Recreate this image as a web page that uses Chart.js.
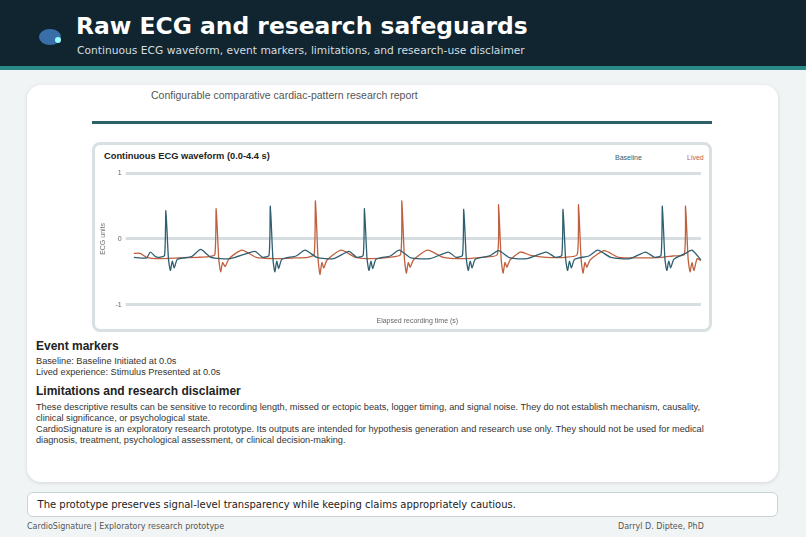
<!DOCTYPE html>
<html><head><meta charset="utf-8">
<script src="https://cdn.jsdelivr.net/npm/chart.js@4.4.0/dist/chart.umd.min.js"></script>
<style>
body{margin:0;width:806px;height:537px;background:#f1f4f4;font-family:"DejaVu Sans",sans-serif;position:relative;overflow:hidden}
.hdr{position:absolute;left:0;top:0;width:806px;height:66px;background:#10252f;border-bottom:4px solid #2a8a86}
.hdr h1{position:absolute;left:76px;top:12px;margin:0;color:#fff;font-size:23.4px;font-weight:bold}
.hdr p{position:absolute;left:77px;top:44px;margin:0;color:#d4dde0;font-size:10.7px}
.card{position:absolute;left:27px;top:85px;width:751px;height:397px;background:#fff;border-radius:14px;box-shadow:0 1px 4px rgba(0,0,0,.12);overflow:hidden;font-family:"Liberation Sans",Arial,sans-serif}
.sub{position:absolute;left:124px;top:4px;font-size:10.5px;color:#555}
.rule{position:absolute;left:65px;top:36px;width:620px;height:3px;background:#2d5f68}
.box{position:absolute;left:65px;top:57px;width:614px;height:184px;border:3px solid #d9e0e3;border-radius:8px}
.ct{position:absolute;left:9px;top:6px;font-size:9.3px;font-weight:bold;color:#222}
.lg{position:absolute;top:9px;font-size:7px;font-weight:normal}
.cv{position:absolute;left:0;top:20px;width:614px;height:164px}
h3{position:absolute;margin:0;font-size:12px;color:#222}
.t{position:absolute;font-size:9.2px;color:#333;line-height:11px;width:690px}
.foot{position:absolute;left:27px;top:492px;width:749px;height:23px;background:#fff;border:1px solid #c9d3d6;border-radius:6px;font-size:10px;line-height:23px;color:#222}
.fl{position:absolute;top:522px;font-size:8px;color:#555}
</style></head><body>
<div class="hdr">
<svg style="position:absolute;left:38px;top:26px" width="28" height="22"><ellipse cx="12" cy="11" rx="11" ry="8" fill="#3a6ea8"/><circle cx="20" cy="14" r="3" fill="#9ff"/></svg>
<h1>Raw ECG and research safeguards</h1>
<p>Continuous ECG waveform, event markers, limitations, and research-use disclaimer</p></div>
<div class="card">
<div class="sub">Configurable comparative cardiac-pattern research report</div>
<div class="rule"></div>
<div class="box">
<div class="ct">Continuous ECG waveform (0.0-4.4 s)</div>
<div class="lg" style="left:520px;color:#2f5f70">Baseline</div>
<div class="lg" style="left:592px;color:#c0603f">Lived</div>
<div class="cv"><canvas id="c"></canvas></div>
</div>
<h3 style="left:9px;top:254px">Event markers</h3>
<div class="t" style="left:9px;top:271px">Baseline: Baseline Initiated at 0.0s<br>Lived experience: Stimulus Presented at 0.0s</div>
<h3 style="left:9px;top:299px">Limitations and research disclaimer</h3>
<div class="t" style="left:9px;top:317px">These descriptive results can be sensitive to recording length, missed or ectopic beats, logger timing, and signal noise. They do not establish mechanism, causality, clinical significance, or psychological state.<br>CardioSignature is an exploratory research prototype. Its outputs are intended for hypothesis generation and research use only. They should not be used for medical diagnosis, treatment, psychological assessment, or clinical decision-making.</div>
</div>
<div class="foot">&nbsp;&nbsp;&nbsp;The prototype preserves signal-level transparency while keeping claims appropriately cautious.</div>
<div class="fl" style="left:27px">CardioSignature | Exploratory research prototype</div>
<div class="fl" style="left:618px">Darryl D. Diptee, PhD</div>
<script>
const seriesNames = ["Baseline", "Lived"];
const yTicks = [-1, 0, 1];
const baselineT = [0,0.1,0.13,0.17,0.2,0.24,0.25,0.27,0.285,0.3,0.315,0.34,0.45,0.52,0.6,0.75,0.94,1.0,1.05,1.06,1.08,1.095,1.11,1.125,1.15,1.26,1.33,1.42,1.55,1.67,1.73,1.78,1.79,1.81,1.825,1.84,1.855,1.88,1.99,2.06,2.15,2.3,2.44,2.5,2.55,2.56,2.58,2.595,2.61,2.625,2.65,2.76,2.83,2.92,3.05,3.2,3.27,3.32,3.33,3.35,3.365,3.38,3.395,3.42,3.53,3.6,3.7,3.85,3.97,4.04,4.09,4.1,4.12,4.135,4.15,4.165,4.19,4.28,4.33,4.4];
const baselineV = [-0.28,-0.29,-0.2,-0.27,-0.28,-0.25,0.43,-0.3,-0.48,-0.34,-0.44,-0.31,-0.27,-0.16,-0.28,-0.3,-0.19,-0.28,-0.25,0.5,-0.3,-0.5,-0.34,-0.45,-0.31,-0.26,-0.17,-0.28,-0.3,-0.19,-0.28,-0.25,0.46,-0.3,-0.48,-0.34,-0.45,-0.31,-0.26,-0.17,-0.29,-0.3,-0.2,-0.28,-0.25,0.45,-0.3,-0.48,-0.34,-0.44,-0.31,-0.26,-0.18,-0.29,-0.3,-0.2,-0.28,-0.25,0.45,-0.3,-0.48,-0.34,-0.44,-0.31,-0.26,-0.17,-0.28,-0.3,-0.2,-0.28,-0.25,0.5,-0.3,-0.48,-0.34,-0.44,-0.31,-0.22,-0.17,-0.32];
const livedT = [0,0.05,0.1,0.2,0.35,0.5,0.58,0.63,0.64,0.66,0.675,0.69,0.71,0.74,0.84,0.95,1.1,1.25,1.35,1.4,1.41,1.43,1.445,1.46,1.475,1.5,1.61,1.72,1.85,1.98,2.07,2.08,2.1,2.115,2.13,2.145,2.17,2.28,2.4,2.55,2.7,2.82,2.83,2.85,2.865,2.88,2.895,2.92,3.0,3.08,3.2,3.35,3.44,3.45,3.47,3.485,3.5,3.515,3.54,3.65,3.76,3.95,4.1,4.18,4.27,4.28,4.3,4.315,4.33,4.345,4.37,4.4];
const livedV = [-0.22,-0.22,-0.28,-0.3,-0.29,-0.28,-0.27,-0.24,0.46,-0.3,-0.5,-0.36,-0.42,-0.3,-0.17,-0.28,-0.3,-0.29,-0.28,-0.24,0.58,-0.3,-0.54,-0.36,-0.44,-0.32,-0.17,-0.28,-0.3,-0.28,-0.24,0.58,-0.3,-0.52,-0.36,-0.43,-0.32,-0.17,-0.28,-0.3,-0.28,-0.24,0.52,-0.3,-0.52,-0.36,-0.43,-0.32,-0.2,-0.25,-0.28,-0.28,-0.24,0.52,-0.3,-0.52,-0.36,-0.43,-0.32,-0.18,-0.28,-0.29,-0.28,-0.26,-0.24,0.5,-0.3,-0.5,-0.36,-0.48,-0.3,-0.33];
const pts = (t, v) => t.map((x, i) => ({x: x, y: v[i]}));
new Chart(document.getElementById("c"), {
  type: "line",
  data: {datasets: [
    {label: seriesNames[0], data: pts(baselineT, baselineV), borderColor: "#2f5f70", borderWidth: 1.3, pointRadius: 0, tension: 0.2},
    {label: seriesNames[1], data: pts(livedT, livedV), borderColor: "#c0603f", borderWidth: 1.3, pointRadius: 0, tension: 0.2}
  ]},
  options: {
    animation: false, responsive: true, maintainAspectRatio: false,
    layout: {padding: {right: 8, top: 4}},
    plugins: {legend: {display: false}, tooltip: {enabled: false}},
    scales: {
      x: {type: "linear", min: 0, max: 4.4, grid: {display: false}, border: {display: false},
          ticks: {display: false}, title: {display: true, text: "Elapsed recording time (s)", color: "#666", font: {size: 7}}},
      y: {min: -1, max: 1, afterBuildTicks: a => { a.ticks = yTicks.map(v => ({value: v})); },
          grid: {color: "#d7dee1", lineWidth: 3}, border: {display: false},
          ticks: {color: "#666", font: {size: 7}, padding: 4},
          title: {display: true, text: "ECG units", color: "#777", font: {size: 7}}}
    }
  }
});
</script>
</body></html>
